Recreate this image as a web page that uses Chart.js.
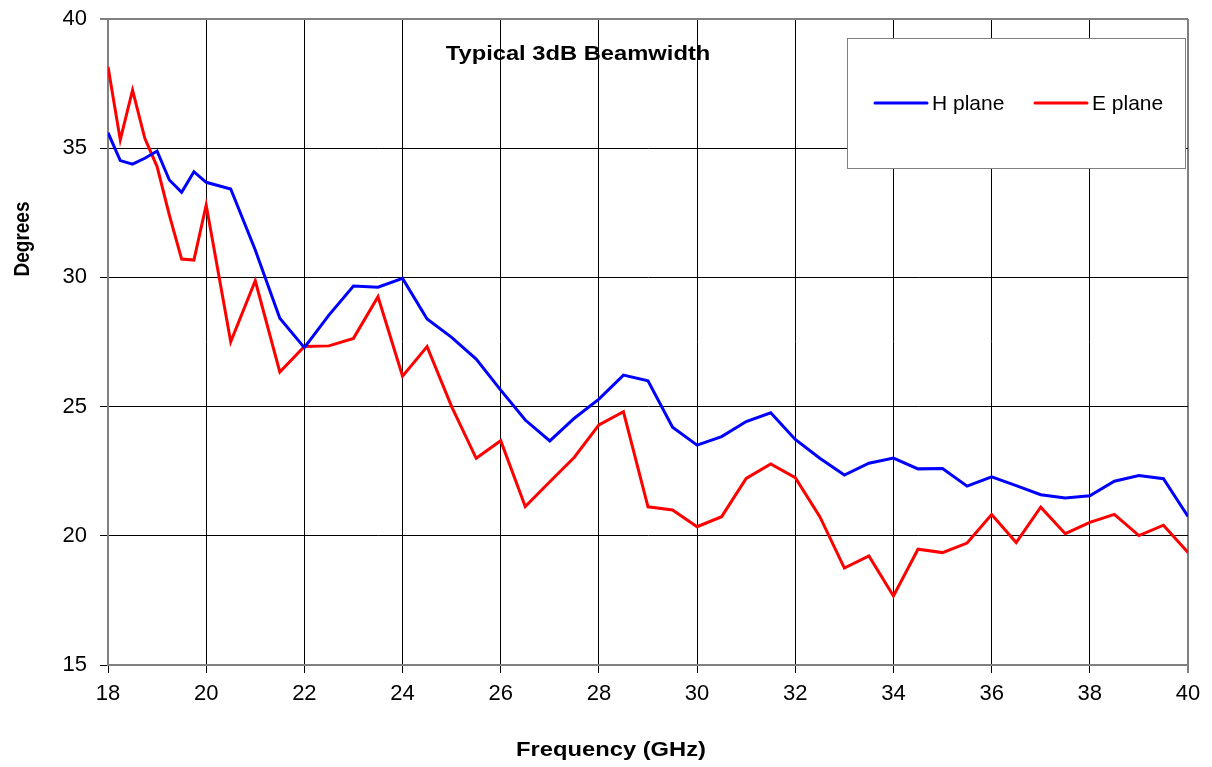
<!DOCTYPE html>
<html>
<head>
<meta charset="utf-8">
<script src="https://cdn.jsdelivr.net/npm/chart.js@4/dist/chart.umd.min.js"></script>
<style>
    body { margin: 0; background: #fff; }
    #wrap { width: 1212px; height: 767px; }
</style>
</head>
<body>
<div id="wrap"><canvas id="beamChart" width="1212" height="767"></canvas></div>
<script>
// ========== DATA ==========
const freqs = [18, 18.25, 18.5, 18.75, 19, 19.25, 19.5, 19.75, 20, 20.5, 21, 21.5, 22, 22.5, 23, 23.5, 24, 24.5, 25, 25.5,
    26, 26.5, 27, 27.5, 28, 28.5, 29, 29.5, 30, 30.5, 31, 31.5, 32, 32.5, 33, 33.5, 34, 34.5, 35, 35.5,
    36, 36.5, 37, 37.5, 38, 38.5, 39, 39.5, 40];

const hPlane = [35.6, 34.52, 34.38, 34.61, 34.89, 33.77, 33.29, 34.09, 33.68, 33.42, 31.06, 28.42, 27.28, 28.54, 29.67, 29.62, 29.96, 28.39, 27.68, 26.84,
    25.64, 24.48, 23.67, 24.55, 25.29, 26.22, 26.0, 24.2, 23.51, 23.84, 24.42, 24.76, 23.73, 23.0, 22.35, 22.81, 23.01, 22.59, 22.6, 21.92,
    22.28, 21.94, 21.59, 21.46, 21.55, 22.11, 22.33, 22.21, 20.75];

const ePlane = [38.15, 35.32, 37.25, 35.38, 34.29, 32.41, 30.71, 30.67, 32.8, 27.51, 29.87, 26.34, 27.33, 27.35, 27.64, 29.25, 26.18, 27.32, 25.0, 23.0,
    23.68, 21.13, 22.09, 23.04, 24.29, 24.8, 21.12, 21.0, 20.35, 20.74, 22.22, 22.78, 22.25, 20.74, 18.75, 19.22, 17.67, 19.48, 19.35, 19.72,
    20.82, 19.74, 21.11, 20.08, 20.52, 20.83, 20.01, 20.41, 19.35];

const xTicks = { min: 18, max: 40, step: 2 };
const yTicks = { min: 15, max: 40, step: 5 };

const chartTitle = 'Typical 3dB Beamwidth';
const xTitle = 'Frequency (GHz)';
const yTitle = 'Degrees';
const seriesNames = ['H plane', 'E plane'];
const seriesColors = ['#0000FF', '#FF0000'];

const FONT = "'Liberation Sans', Arial, sans-serif";

// draws bold text a bit wider, like the original export
function wideText(ctx, text, x, y, sx) {
    ctx.save();
    ctx.translate(x, y);
    ctx.scale(sx, 1);
    ctx.fillText(text, 0, 0);
    ctx.restore();
}

// ========== TEXT + LEGEND PLUGIN ==========
const overlay = {
    id: 'overlay',
    afterDraw(chart) {
        const ctx = chart.ctx;
        ctx.save();
        ctx.fillStyle = '#000';

        // chart title inside plot + x title
        ctx.font = 'bold 21px ' + FONT;
        ctx.textAlign = 'center';
        ctx.textBaseline = 'alphabetic';
        wideText(ctx, chartTitle, 578, 60, 1.13);
        wideText(ctx, xTitle, 611, 756, 1.13);

        // y title (rotated)
        ctx.save();
        ctx.font = 'bold 19px ' + FONT;
        ctx.translate(29, 239);
        ctx.rotate(-Math.PI / 2);
        ctx.scale(1, 1.14);
        ctx.fillText(yTitle, 0, 0);
        ctx.restore();

        // legend box
        ctx.fillStyle = '#fff';
        ctx.fillRect(847, 38, 338, 130);
        ctx.strokeStyle = '#808080';
        ctx.lineWidth = 1;
        ctx.strokeRect(847.5, 38.5, 338, 130);

        const items = [{ x: 875, tx: 932 }, { x: 1035, tx: 1092 }];
        ctx.font = '21px ' + FONT;
        ctx.textAlign = 'left';
        items.forEach((it, i) => {
            ctx.strokeStyle = seriesColors[i];
            ctx.lineWidth = 3;
            ctx.lineCap = 'round';
            ctx.beginPath();
            ctx.moveTo(it.x, 103);
            ctx.lineTo(it.x + 52, 103);
            ctx.stroke();
            ctx.fillStyle = '#000';
            ctx.fillText(seriesNames[i], it.tx, 110);
        });
        ctx.restore();
    }
};

// ========== CHART ==========
const toPoints = arr => arr.map((v, i) => ({ x: freqs[i], y: v }));

const isEdge = (ctx, max) => ctx.tick && ctx.tick.value === max;
const edgeColor = (ctx, max) => isEdge(ctx, max) ? '#808080' : '#000';
const edgeWidth = (ctx, max) => isEdge(ctx, max) ? 2 : 1;

new Chart(document.getElementById('beamChart'), {
    type: 'line',
    data: {
        datasets: [
            { label: seriesNames[0], data: toPoints(hPlane), borderColor: seriesColors[0], borderWidth: 3, pointRadius: 0, tension: 0 },
            { label: seriesNames[1], data: toPoints(ePlane), borderColor: seriesColors[1], borderWidth: 3, pointRadius: 0, tension: 0 }
        ]
    },
    options: {
        responsive: false,
        animation: false,
        layout: { padding: { top: 19, right: 24, left: 0, bottom: 0 } },
        plugins: { legend: { display: false }, tooltip: { enabled: false } },
        scales: {
            x: {
                type: 'linear',
                min: xTicks.min, max: xTicks.max,
                afterFit: s => { s.height = 102; s.paddingLeft = 0; s.paddingRight = 0; },
                ticks: { stepSize: xTicks.step, color: '#000', font: { family: FONT, size: 22 }, padding: 8, maxRotation: 0 },
                grid: { color: c => edgeColor(c, xTicks.max), lineWidth: c => edgeWidth(c, xTicks.max), tickColor: '#000', tickLength: 8, tickWidth: 1 },
                border: { color: '#808080', width: 2 }
            },
            y: {
                min: yTicks.min, max: yTicks.max,
                afterFit: s => { s.width = 108; s.paddingTop = 0; s.paddingBottom = 0; },
                ticks: { stepSize: yTicks.step, color: '#000', font: { family: FONT, size: 22 }, padding: 13 },
                grid: { color: c => edgeColor(c, yTicks.max), lineWidth: c => edgeWidth(c, yTicks.max), tickColor: '#000', tickLength: 8, tickWidth: 1 },
                border: { color: '#808080', width: 2 }
            }
        }
    },
    plugins: [overlay]
});
</script>
</body>
</html>
